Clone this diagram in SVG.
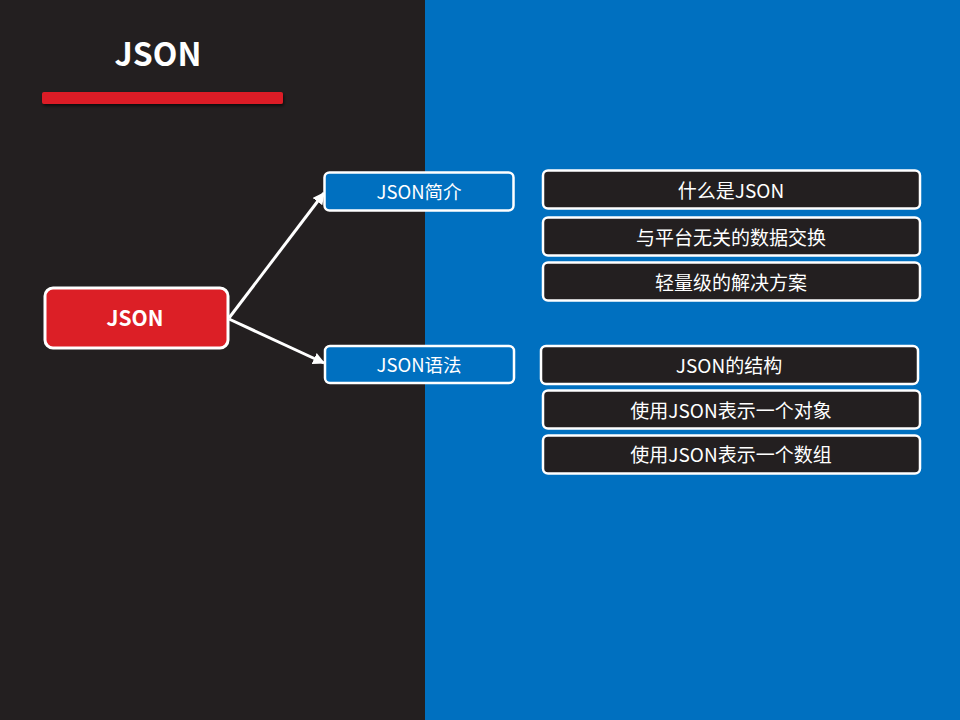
<svg xmlns="http://www.w3.org/2000/svg" width="960" height="720" viewBox="0 0 960 720">
<defs>
<style>
.t{font-family:"Noto Sans CJK SC","Noto Sans",sans-serif;fill:#fff;text-anchor:middle;dominant-baseline:central}
.b{font-weight:bold}
.blue{fill:#0070c0;stroke:#fff;stroke-width:2.5}
.dark{fill:#231f20;stroke:#fff;stroke-width:2.5}
.conn{stroke:#fff;stroke-width:3;fill:none}
</style>
<marker id="ah" viewBox="0 0 10 10" refX="9" refY="5" markerWidth="4" markerHeight="4" orient="auto" markerUnits="strokeWidth">
<path d="M0,0 L10,5 L0,10 z" fill="#fff"/>
</marker>
<filter id="sh" x="-10%" y="-50%" width="120%" height="250%">
<feDropShadow dx="1" dy="2" stdDeviation="1.5" flood-color="#000" flood-opacity="0.6"/>
</filter>
</defs>
<rect x="0" y="0" width="425" height="720" fill="#231f20"/>
<rect x="425" y="0" width="535" height="720" fill="#0070c0"/>
<g id="title">
<text class="t b" x="158" y="52" font-size="32">JSON</text>
<rect x="42" y="92" width="241" height="12" rx="2" fill="#dc1f26" filter="url(#sh)"/>
</g>
<g id="connectors">
<line class="conn" x1="229" y1="318" x2="324" y2="193" marker-end="url(#ah)"/>
<line class="conn" x1="229" y1="319" x2="324" y2="363" marker-end="url(#ah)"/>
</g>
<g id="n-json">
<rect x="45" y="288" width="183" height="60" rx="8" fill="#dc1f26" stroke="#fff" stroke-width="3"/>
<text class="t b" x="135" y="317" font-size="21">JSON</text>
</g>
<g id="n-intro">
<rect class="blue" x="324.5" y="172.5" width="189" height="38" rx="5"/>
<text class="t" x="419" y="190.5" font-size="18.5">JSON简介</text>
</g>
<g id="n-syntax">
<rect class="blue" x="325" y="346" width="189" height="37" rx="5"/>
<text class="t" x="419" y="363.5" font-size="18.5">JSON语法</text>
</g>
<g id="n-what">
<rect class="dark" x="543" y="170.5" width="377" height="38" rx="5"/>
<text class="t" x="731" y="189" font-size="19">什么是JSON</text>
</g>
<g id="n-platform">
<rect class="dark" x="543" y="217.5" width="377" height="38" rx="5"/>
<text class="t" x="731" y="236" font-size="19">与平台无关的数据交换</text>
</g>
<g id="n-light">
<rect class="dark" x="543" y="262.5" width="377" height="38" rx="5"/>
<text class="t" x="731" y="281" font-size="19">轻量级的解决方案</text>
</g>
<g id="n-struct">
<rect class="dark" x="541" y="346" width="377" height="38" rx="5"/>
<text class="t" x="729" y="364" font-size="19">JSON的结构</text>
</g>
<g id="n-object">
<rect class="dark" x="543" y="390.5" width="377" height="38" rx="5"/>
<text class="t" x="731" y="409" font-size="19">使用JSON表示一个对象</text>
</g>
<g id="n-array">
<rect class="dark" x="543" y="435.5" width="377" height="38" rx="5"/>
<text class="t" x="731" y="453" font-size="19">使用JSON表示一个数组</text>
</g>
</svg>
